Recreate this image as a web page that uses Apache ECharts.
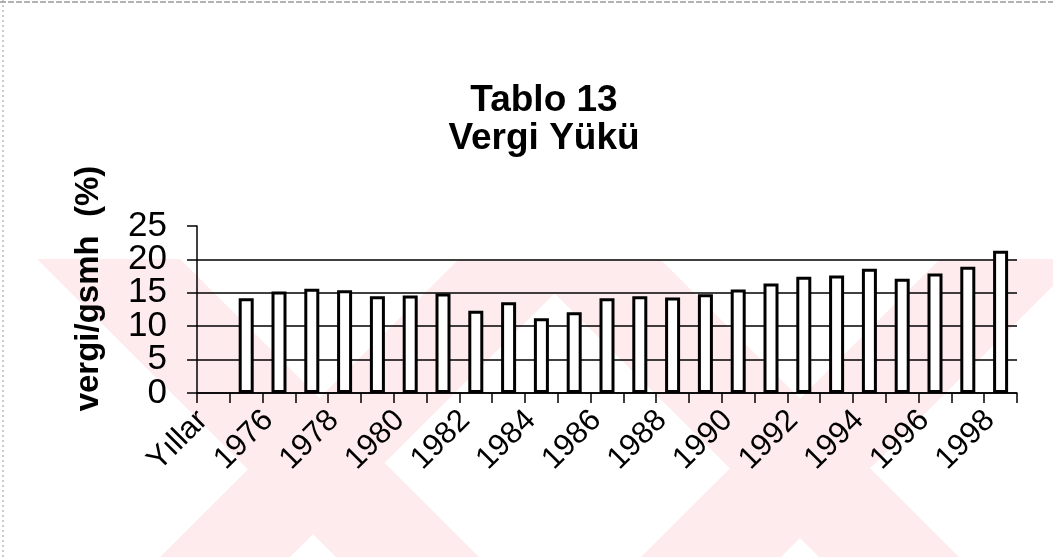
<!DOCTYPE html>
<html>
<head>
<meta charset="utf-8">
<script src="https://cdn.jsdelivr.net/npm/echarts@6/dist/echarts.min.js"></script>
<style>
html,body{margin:0;padding:0;background:#fff;}
#chart{width:1053px;height:557px;}
</style>
</head>
<body>
<div id="chart"></div>
<script>
// Data
var categories = ['Yıllar','1975','1976','1977','1978','1979','1980','1981','1982','1983','1984','1985','1986','1987','1988','1989','1990','1991','1992','1993','1994','1995','1996','1997','1998'];
var vergiGsmh = [null,14.2,15.2,15.6,15.4,14.5,14.6,14.9,12.3,13.6,11.2,12.1,14.2,14.5,14.3,14.8,15.5,16.4,17.4,17.6,18.6,17.1,17.9,18.9,21.3];
var yTicks = [0,5,10,15,20,25];
var titleText = 'Tablo 13\nVergi Yükü';
var yAxisName = 'vergi/gsmh  (%)';

var FONT = '"Liberation Sans", Arial, sans-serif';
var pink = '#fdebee';
function stripe(x1, x2, x3, x4, yTop, yBot) {
  return {type:'polygon', z:-10, silent:true,
    shape:{points:[[x1,yTop],[x2,yTop],[x4,yBot],[x3,yBot]]},
    style:{fill:pink}};
}
var yMin = yTicks[0], yMax = yTicks[yTicks.length-1], yStep = yTicks[1]-yTicks[0];
var yLabelStyle = {margin:30, fontFamily:FONT, fontSize:35, color:'#000'};
function labelsEvery(parity) {
  return Object.assign({}, yLabelStyle, {
    formatter:function(v){ return (Math.round(v/yStep) % 2 === parity) ? String(v) : ''; }
  });
}
var chart = echarts.init(document.getElementById('chart'), null, {renderer:'canvas'});
chart.setOption({
  animation:false,
  backgroundColor:'#fff',
  title:{
    text:titleText, left:539, top:77, textAlign:'center',
    textStyle:{fontFamily:FONT, fontSize:37, fontWeight:'bold', color:'#000', lineHeight:38}
  },
  graphic:[
    stripe(37,180,336,479,259,557),
    stripe(459,589,160,290,259,557),
    stripe(520,660,819,959,259,557),
    stripe(940,1080,641,781,259,557),
    {type:'line', z:100, shape:{x1:0,y1:2,x2:1053,y2:2}, style:{stroke:'#666', lineWidth:1, lineDash:[6,2]}},
    {type:'line', z:100, shape:{x1:3,y1:0,x2:3,y2:557}, style:{stroke:'#999', lineWidth:1, lineDash:[2,3]}}
  ],
  grid:{left:197, right:36, top:226, bottom:164, containLabel:false},
  xAxis:{
    type:'category', data:categories, boundaryGap:true,
    axisLine:{lineStyle:{color:'#000', width:1.5}},
    axisTick:{show:true, interval:0, length:10, lineStyle:{color:'#000', width:1.5}},
    axisLabel:{interval:1, rotate:45, margin:12, padding:[0,15,0,0],
      fontFamily:FONT, fontSize:31, color:'#000'},
    splitLine:{show:false}
  },
  yAxis:[{
    type:'value', min:yMin, max:yMax, interval:yStep, position:'left',
    name:yAxisName, nameLocation:'middle', nameRotate:90, nameGap:92,
    nameTextStyle:{fontFamily:FONT, fontSize:33, fontWeight:'bold', color:'#000', padding:[0,0,0,42]},
    axisLine:{show:true, lineStyle:{color:'#000', width:1.5}},
    axisTick:{show:true, length:10, lineStyle:{color:'#000', width:1.5}},
    axisLabel:labelsEvery(0),
    splitLine:{show:true, lineStyle:{color:['#000','#000','#000','#000','#000','rgba(0,0,0,0)'], width:1.5}}
  },{
    type:'value', min:yMin, max:yMax, interval:yStep, position:'left', offset:0,
    axisLine:{show:false}, axisTick:{show:false}, splitLine:{show:false},
    axisLabel:labelsEvery(1)
  }],
  series:[{
    type:'bar', data:vergiGsmh, barWidth:15, yAxisIndex:0,
    itemStyle:{color:'#fff', borderColor:'#000', borderWidth:3}
  }]
});
</script>
</body>
</html>
